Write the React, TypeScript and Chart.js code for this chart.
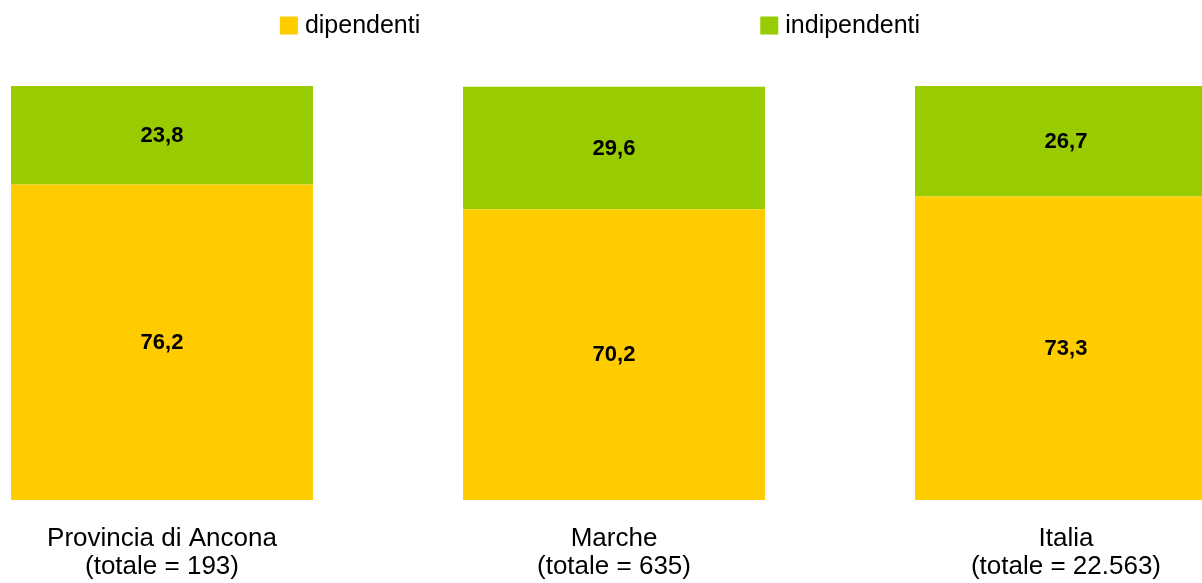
import React, { useEffect, useRef } from "react";
import { Chart, registerables } from "chart.js";

Chart.register(...registerables);

const categories: string[][] = [
  ["Provincia di Ancona", "(totale = 193)"],
  ["Marche", "(totale = 635)"],
  ["Italia", "(totale = 22.563)"],
];
const dipendenti: number[] = [76.2, 70.2, 73.3];
const indipendenti: number[] = [23.8, 29.6, 26.7];
const seriesNames: string[] = ["dipendenti", "indipendenti"];
const seriesColors: string[] = ["#FFCC00", "#99CC00"];

const FONT = "'Liberation Sans', Arial, sans-serif";

const valueLabels = {
  id: "valueLabels",
  afterDatasetsDraw(chart: any) {
    const ctx = chart.ctx;
    ctx.save();
    ctx.font = `bold 22px ${FONT}`;
    ctx.fillStyle = "#000000";
    ctx.textAlign = "center";
    ctx.textBaseline = "middle";
    chart.data.datasets.forEach((ds: any, di: number) => {
      const meta = chart.getDatasetMeta(di);
      meta.data.forEach((bar: any, i: number) => {
        const v = ds.data[i].y;
        const yMid = (bar.y + bar.base) / 2;
        ctx.fillText(v.toFixed(1).replace(".", ","), bar.x, yMid + 0.5);
      });
    });
    ctx.restore();
  },
};

const customLegend = {
  id: "customLegend",
  afterDraw(chart: any) {
    const ctx = chart.ctx;
    ctx.save();
    ctx.font = `25px ${FONT}`;
    ctx.textBaseline = "middle";
    ctx.textAlign = "left";
    const box = 18;
    const gapText = 7;
    const gapItems = 340;
    const widths = seriesNames.map((n) => box + gapText + ctx.measureText(n).width);
    const total = widths.reduce((a, b) => a + b, 0) + gapItems * (widths.length - 1);
    let x = chart.width / 2 - total / 2 - 1;
    const yc = 25.5;
    seriesNames.forEach((n, i) => {
      ctx.fillStyle = seriesColors[i];
      ctx.fillRect(x, yc - box / 2, box, box);
      ctx.fillStyle = "#000000";
      ctx.fillText(n, x + box + gapText, yc + 1);
      x += widths[i] + gapItems;
    });
    ctx.restore();
  },
};

export default function App() {
  const canvasRef = useRef<HTMLCanvasElement | null>(null);

  useEffect(() => {
    if (!canvasRef.current) return;
    let chart: any = null;
    let cancelled = false;
    const build = () => {
      if (cancelled || !canvasRef.current) return;
      chart = new Chart(canvasRef.current, {
        type: "bar",
        data: {
          datasets: [
            {
              label: seriesNames[0],
              data: dipendenti.map((v, i) => ({ x: i, y: v })),
              backgroundColor: seriesColors[0],
              borderWidth: 0,
              categoryPercentage: 1,
              barPercentage: 0.668,
            },
            {
              label: seriesNames[1],
              data: indipendenti.map((v, i) => ({ x: i, y: v })),
              backgroundColor: seriesColors[1],
              borderWidth: 0,
              categoryPercentage: 1,
              barPercentage: 0.668,
            },
          ],
        },
        options: {
          animation: false,
          responsive: false,
          layout: { autoPadding: false, padding: { top: 86, left: 0, right: 0, bottom: 0 } },
          plugins: {
            legend: { display: false },
            tooltip: { enabled: false },
          },
          scales: {
            x: {
              type: "linear",
              stacked: true,
              offset: false,
              min: -0.3584,
              max: 2.3009,
              grid: { display: false, offset: false, tickLength: 0 },
              border: { display: false },
              afterBuildTicks: (scale: any) => {
                scale.ticks = categories.map((_, i) => ({ value: i }));
              },
              afterFit: (scale: any) => {
                scale.height = 83;
                scale.paddingLeft = 0;
                scale.paddingRight = 0;
              },
              ticks: {
                autoSkip: false,
                maxRotation: 0,
                minRotation: 0,
                padding: 25,
                color: "#000000",
                font: { family: FONT, size: 26, lineHeight: 1.08 },
                callback: (value: any) => categories[Math.round(Number(value))] ?? "",
              },
            },
            y: {
              stacked: true,
              display: false,
              min: 0,
              max: 100,
            },
          },
        },
        plugins: [valueLabels, customLegend],
      });
    };
    const fonts: any = (document as any).fonts;
    if (fonts && fonts.load) {
      Promise.all([
        fonts.load(`26px "Liberation Sans"`),
        fonts.load(`bold 22px "Liberation Sans"`),
      ])
        .catch(() => null)
        .then(() => build());
    } else {
      build();
    }
    return () => {
      cancelled = true;
      if (chart) chart.destroy();
    };
  }, []);

  return (
    <div style={{ position: "fixed", left: 0, top: 0, width: 1202, height: 583, background: "#ffffff" }}>
      <canvas ref={canvasRef} width={1202} height={583} style={{ display: "block" }} />
    </div>
  );
}
